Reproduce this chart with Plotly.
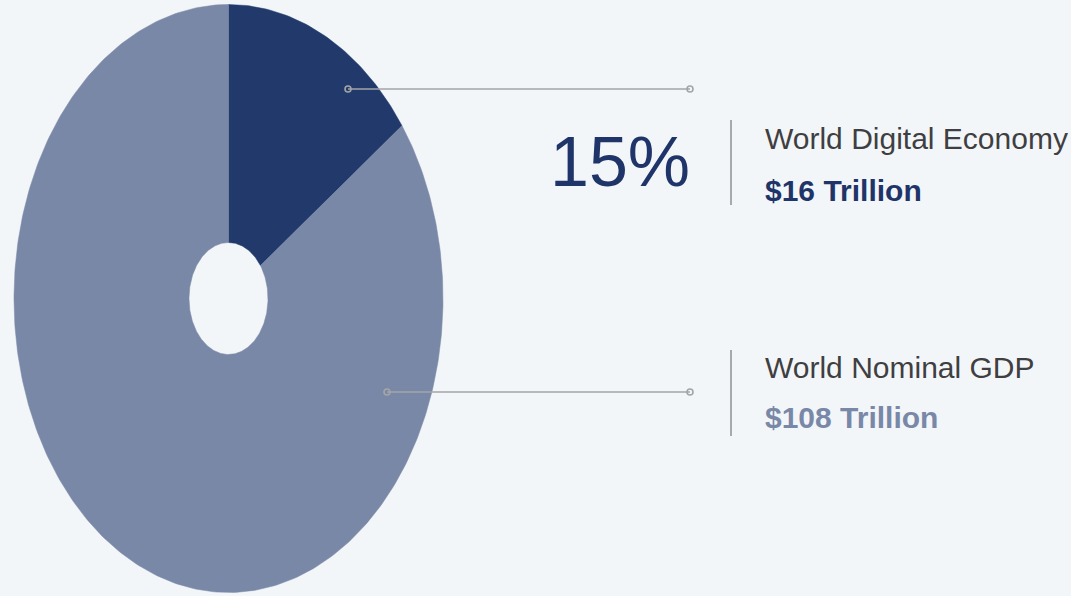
import numpy as np
import plotly.graph_objects as go

# ---- data ----
labels = ["World Digital Economy", "Rest of World Nominal GDP"]
share_pct = [15, 85]                # digital economy share of world nominal GDP (%)
values_trillion = [16, 108]         # $16T digital economy, $108T world nominal GDP
share_label = "15%"
value_labels = ["$16 Trillion", "$108 Trillion"]
legend_titles = ["World Digital Economy", "World Nominal GDP"]
slice_colors = ["#213a6b", "#7a88a7"]

# ---- layout geometry (pixel-like axis space) ----
W, H = 1071, 596
cx, cy = 228.5, 298.5
rx, ry = 214.5, 294.0
hole_rx, hole_ry = 39.5, 56.0
bg = "#f3f6f9"

fig = go.Figure()

total = sum(share_pct)
start = 0.0
for val, col, lab in zip(share_pct, slice_colors, labels):
    frac = val / total
    t0, t1 = start * 2 * np.pi, (start + frac) * 2 * np.pi
    n = max(int(frac * 400), 20)
    th = np.linspace(t0, t1, n)
    xo = cx + rx * np.sin(th)
    yo = cy - ry * np.cos(th)
    xi = cx + hole_rx * np.sin(th[::-1])
    yi = cy - hole_ry * np.cos(th[::-1])
    xs = np.concatenate([xo, xi, xo[:1]])
    ys = np.concatenate([yo, yi, yo[:1]])
    fig.add_trace(go.Scatter(x=xs, y=ys, mode="lines", fill="toself",
                             fillcolor=col, line=dict(width=0.5, color=col),
                             name=lab, hoverinfo="name", showlegend=False))
    start += frac

# leader lines
line_color = "#a3a5a8"
leaders = [((348, 89), (690, 89)), ((387, 392), (690, 392))]
for (x0, y0), (x1, y1) in leaders:
    fig.add_trace(go.Scatter(x=[x0, x1], y=[y0, y1], mode="lines+markers",
                             line=dict(color=line_color, width=1.6),
                             marker=dict(symbol="circle-open", size=6,
                                         color=line_color, line=dict(width=1.6)),
                             hoverinfo="skip", showlegend=False))

# separators
for y0, y1 in [(120, 205), (350, 436)]:
    fig.add_shape(type="line", x0=731, x1=731, y0=y0, y1=y1, xref="x", yref="y",
                  line=dict(color="#8e8f92", width=1.5))

fam = "Liberation Sans, Arial, Helvetica, sans-serif"

fig.add_annotation(x=692, y=162, xref="x", yref="y", text=share_label,
                   showarrow=False, xanchor="right", yanchor="middle",
                   font=dict(family=fam, size=70, color="#1f3468"))
fig.add_annotation(x=763, y=138, xref="x", yref="y", text=legend_titles[0],
                   showarrow=False, xanchor="left", yanchor="middle",
                   font=dict(family=fam, size=30, color="#3f3f42"))
fig.add_annotation(x=763, y=190, xref="x", yref="y", text="<b>" + value_labels[0] + "</b>",
                   showarrow=False, xanchor="left", yanchor="middle",
                   font=dict(family=fam, size=30, color="#1f3468"))
fig.add_annotation(x=763, y=367, xref="x", yref="y", text=legend_titles[1],
                   showarrow=False, xanchor="left", yanchor="middle",
                   font=dict(family=fam, size=30, color="#3f3f42"))
fig.add_annotation(x=763, y=417, xref="x", yref="y", text="<b>" + value_labels[1] + "</b>",
                   showarrow=False, xanchor="left", yanchor="middle",
                   font=dict(family=fam, size=30, color="#7a88a7"))

fig.update_xaxes(range=[0, W], visible=False, fixedrange=True)
fig.update_yaxes(range=[H, 0], visible=False, fixedrange=True)
fig.update_layout(width=W, height=H, margin=dict(l=0, r=0, t=0, b=0),
                  paper_bgcolor=bg, plot_bgcolor=bg, showlegend=False)

fig.write_html("out.html", config={"displayModeBar": False},
               post_script="document.body.style.margin='0';document.body.style.background='%s';" % bg)
